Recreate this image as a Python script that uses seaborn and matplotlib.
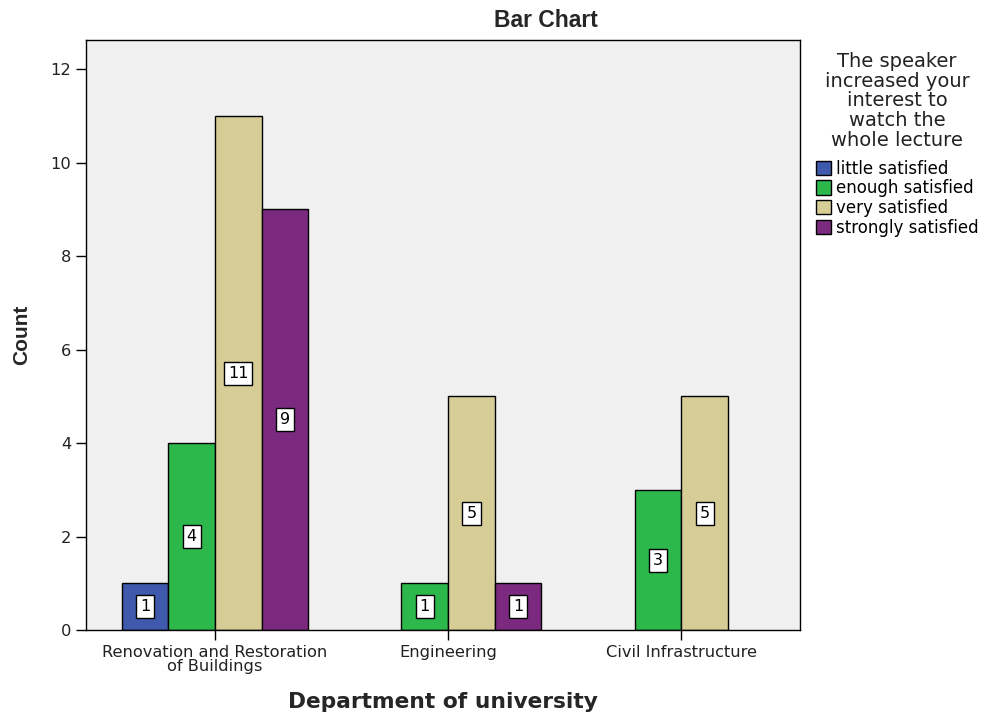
import matplotlib
matplotlib.use("Agg")
import matplotlib.pyplot as plt
import seaborn as sns
import pandas as pd
import numpy as np

departments = ["Renovation and Restoration\nof Buildings", "Engineering", "Civil Infrastructure"]
levels = ["little satisfied", "enough satisfied", "very satisfied", "strongly satisfied"]
little = [1, np.nan, np.nan]
enough = [4, 1, 3]
very = [11, 5, 5]
strongly = [9, 1, np.nan]
colors = ["#3F59AD", "#2DB84B", "#D5CD95", "#7C2A7F"]

rows = []
for lvl, vals in zip(levels, [little, enough, very, strongly]):
    for d, v in zip(departments, vals):
        rows.append({"dept": d, "level": lvl, "count": v})
df = pd.DataFrame(rows)

sns.set_theme(style="white")
plt.rcParams["font.family"] = ["DejaVu Sans"]

fig = plt.figure(figsize=(9.88, 7.17), dpi=100)
ax = fig.add_axes([0.087, 0.121, 0.723, 0.823])
ax.set_facecolor("#F0F0F0")

sns.barplot(data=df, x="dept", y="count", hue="level", order=departments,
            hue_order=levels, palette=colors, edgecolor="black", linewidth=1,
            width=0.8, saturation=1, ax=ax, legend=True)

for cont in ax.containers:
    for bar in cont:
        h = bar.get_height()
        if np.isnan(h) or h <= 0:
            continue
        ax.text(bar.get_x() + bar.get_width() / 2, h / 2, f"{int(h)}",
                ha="center", va="center", fontsize=11.5, color="black",
                bbox=dict(boxstyle="square,pad=0.25", fc="white", ec="black", lw=1))

ax.set_xlim(-0.553, 2.51)
ax.set_ylim(0, 12.62)
ax.set_yticks([0, 2, 4, 6, 8, 10, 12])
ax.tick_params(axis="both", which="both", direction="out", length=7, width=1,
               colors="black", labelsize=11.7, bottom=True, left=True)
for lab in ax.get_xticklabels() + ax.get_yticklabels():
    lab.set_color("#222222")
    lab.set_linespacing(0.95)
for s in ax.spines.values():
    s.set_color("black")
    s.set_linewidth(1)

ax.set_xlabel("Department of university", fontsize=15.7, fontweight="bold", labelpad=13)
ax.set_ylabel("Count", fontsize=15, fontweight="bold", labelpad=14,
              family="Liberation Sans")
fig.text(0.553, 0.972, "Bar Chart", fontsize=16.5, fontweight="bold",
         family="Liberation Sans", ha="center", va="center")

leg = ax.legend(title="The speaker\nincreased your\ninterest to\nwatch the\nwhole lecture",
                loc="upper left", bbox_to_anchor=(1.005, 1.0), frameon=False,
                fontsize=12, title_fontsize=14, handlelength=0.95, handleheight=0.95,
                handletextpad=0.3, labelspacing=0.1, borderaxespad=0.3)
leg._legend_box.align = "center"
leg._legend_box.sep = 7
for t in leg.get_texts():
    t.set_color("black")
leg.get_title().set_multialignment("center")
leg.get_title().set_linespacing(1.05)
leg.get_title().set_color("#222222")

fig.savefig("out.png", dpi=100)
